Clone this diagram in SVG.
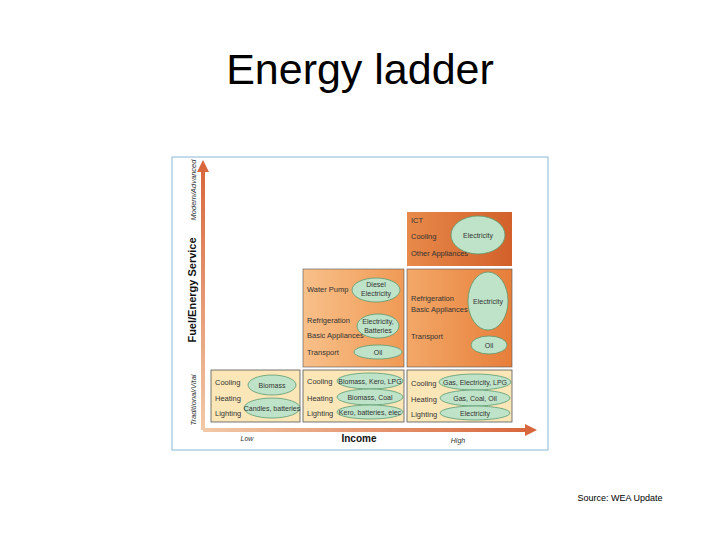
<svg xmlns="http://www.w3.org/2000/svg" width="720" height="540" viewBox="0 0 720 540">
<defs>
<style>
.t{font-family:"Liberation Sans",Arial,sans-serif;font-size:7.5px;fill:#333}
.e{fill:#bfe3c9;stroke:#5a9a70;stroke-width:0.8}
.et{font-family:"Liberation Sans",Arial,sans-serif;font-size:7px;fill:#333;text-anchor:middle}
.pale{fill:#fbe6b8;stroke:#555;stroke-width:0.8}
</style>
<linearGradient id="g1" x1="0" y1="0" x2="1" y2="0"><stop offset="0" stop-color="#f8c08a"/><stop offset="1" stop-color="#f09a55"/></linearGradient>
<linearGradient id="g2" x1="0" y1="0" x2="1" y2="0"><stop offset="0" stop-color="#f3a868"/><stop offset="1" stop-color="#e77e3a"/></linearGradient>
<linearGradient id="g3" x1="0" y1="0" x2="1" y2="0"><stop offset="0" stop-color="#e88a4a"/><stop offset="1" stop-color="#d2602a"/></linearGradient>
<linearGradient id="ax" x1="0" y1="0" x2="1" y2="0"><stop offset="0" stop-color="#f2c9a8"/><stop offset="1" stop-color="#d8643a"/></linearGradient>
<linearGradient id="ay" x1="0" y1="1" x2="0" y2="0"><stop offset="0" stop-color="#f2c9a8"/><stop offset="1" stop-color="#d8643a"/></linearGradient>
</defs>
<rect width="720" height="540" fill="#fff"/>
<text x="360" y="84" text-anchor="middle" font-family="Liberation Sans,Arial,sans-serif" font-size="43" fill="#000">Energy ladder</text>
<text x="620" y="501" text-anchor="middle" font-family="Liberation Sans,Arial,sans-serif" font-size="9" fill="#000">Source: WEA Update</text>
<rect x="172" y="157" width="376" height="293" fill="#fff" stroke="#9cc3dc" stroke-width="1.2"/>
<g id="connectors">
<polygon points="201,430 201,172 197,172 203,160 209,172 205,172 205,430" fill="url(#ay)"/>
<polygon points="203,428 525,428 525,424 537,430 525,436 525,432 203,432" fill="url(#ax)"/>
</g>
<g id="axes-labels">
<text transform="translate(196,290) rotate(-90)" text-anchor="middle" font-family="Liberation Sans,Arial,sans-serif" font-size="11" font-weight="bold" fill="#111">Fuel/Energy Service</text>
<text transform="translate(196,190) rotate(-90)" text-anchor="middle" class="t" font-style="italic">Modern/Advanced</text>
<text transform="translate(196,400) rotate(-90)" text-anchor="middle" class="t" font-style="italic">Traditional/Vital</text>
<text x="359" y="442" text-anchor="middle" font-family="Liberation Sans,Arial,sans-serif" font-size="10" font-weight="bold" fill="#111">Income</text>
<text x="247" y="441" class="et" font-style="italic">Low</text>
<text x="458" y="443" class="et" font-style="italic">High</text>
</g>
<g id="top">
<rect x="407" y="212" width="105" height="54" fill="url(#g3)"/>
<text x="411" y="223" class="t">ICT</text>
<text x="411" y="239" class="t">Cooling</text>
<text x="411" y="256" class="t">Other Appliances</text>
<ellipse cx="478" cy="235" rx="27" ry="19" class="e"/>
<text x="478" y="238" class="et">Electricity</text>
</g>
<g id="mid-left">
<rect x="303" y="269" width="101" height="98" fill="url(#g1)" stroke="#555" stroke-width="0.6"/>
<text x="307" y="292" class="t">Water Pump</text>
<text x="307" y="323" class="t">Refrigeration</text>
<text x="307" y="338" class="t">Basic Appliances</text>
<text x="307" y="355" class="t">Transport</text>
<ellipse cx="376" cy="290" rx="24" ry="12" class="e"/>
<text x="376" y="287" class="et">Diesel</text><text x="376" y="296" class="et">Electricity</text>
<ellipse cx="378" cy="326" rx="21" ry="12" class="e"/>
<text x="378" y="324" class="et">Electricity,</text><text x="378" y="333" class="et">Batteries</text>
<ellipse cx="378" cy="352" rx="24" ry="7" class="e"/>
<text x="378" y="355" class="et">Oil</text>
</g>
<g id="mid-right">
<rect x="407" y="269" width="105" height="98" fill="url(#g2)" stroke="#555" stroke-width="0.6"/>
<text x="411" y="301" class="t">Refrigeration</text>
<text x="411" y="312" class="t">Basic Appliances</text>
<text x="411" y="339" class="t">Transport</text>
<ellipse cx="488" cy="301" rx="20" ry="29" class="e"/>
<text x="488" y="304" class="et">Electricity</text>
<ellipse cx="489" cy="345" rx="18" ry="9" class="e"/>
<text x="489" y="348" class="et">Oil</text>
</g>
<g id="low-1">
<rect x="211" y="370" width="89" height="52" class="pale"/>
<text x="215" y="385" class="t">Cooling</text>
<text x="215" y="401" class="t">Heating</text>
<text x="215" y="416" class="t">Lighting</text>
<ellipse cx="272" cy="385" rx="24" ry="10" class="e"/>
<text x="272" y="388" class="et">Biomass</text>
<ellipse cx="272" cy="408" rx="28" ry="10" class="e"/>
<text x="272" y="411" class="et">Candles, batteries</text>
</g>
<g id="low-2">
<rect x="303" y="370" width="101" height="52" class="pale"/>
<text x="307" y="384" class="t">Cooling</text>
<text x="307" y="401" class="t">Heating</text>
<text x="307" y="416" class="t">Lighting</text>
<ellipse cx="370" cy="381" rx="33" ry="8" class="e"/>
<text x="370" y="384" class="et">Biomass, Kero, LPG</text>
<ellipse cx="370" cy="397" rx="33" ry="8" class="e"/>
<text x="370" y="400" class="et">Biomass, Coal</text>
<ellipse cx="370" cy="412" rx="33" ry="7" class="e"/>
<text x="370" y="415" class="et">Kero, batteries, elec</text>
</g>
<g id="low-3">
<rect x="407" y="370" width="105" height="52" class="pale"/>
<text x="411" y="386" class="t">Cooling</text>
<text x="411" y="402" class="t">Heating</text>
<text x="411" y="417" class="t">Lighting</text>
<ellipse cx="475" cy="382" rx="36" ry="8" class="e"/>
<text x="475" y="385" class="et">Gas, Electricity, LPG</text>
<ellipse cx="475" cy="398" rx="35" ry="8" class="e"/>
<text x="475" y="401" class="et">Gas, Coal, Oil</text>
<ellipse cx="475" cy="413" rx="35" ry="7" class="e"/>
<text x="475" y="416" class="et">Electricity</text>
</g>
</svg>
